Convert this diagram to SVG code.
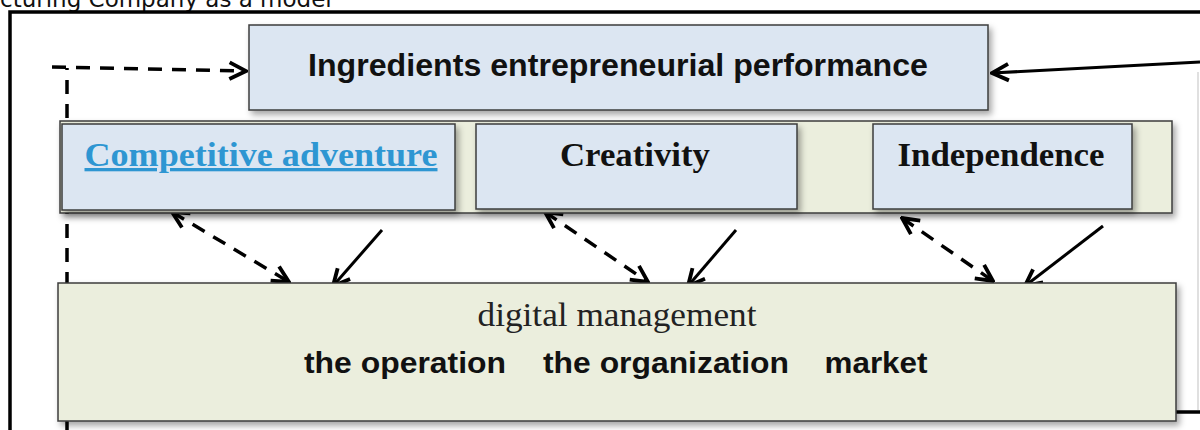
<svg xmlns="http://www.w3.org/2000/svg" width="1200" height="430" viewBox="0 0 1200 430">
  <style>
    .caption { font-family: "DejaVu Sans", "Liberation Sans", sans-serif; font-size: 23px; fill: #111; }
    .box-blue { fill: #dce6f2; stroke: #3c3c3c; stroke-width: 1.5; }
    .box-green { fill: #ebeedd; stroke: #3c3c3c; stroke-width: 1.5; }
    .sans-b { font-family: "Liberation Sans", Arial, sans-serif; font-weight: bold; fill: #111; }
    .serif-b { font-family: "Liberation Serif", "Times New Roman", serif; font-weight: bold; fill: #111; }
    .serif { font-family: "Liberation Serif", "Times New Roman", serif; fill: #222; }
    .solid { fill: none; stroke: #000; stroke-width: 3; }
    .dash { fill: none; stroke: #000; stroke-width: 3.5; stroke-dasharray: 14 10; }
    .frame { fill: none; stroke: #000; stroke-width: 3.5; }
  </style>
  <defs>
    <filter id="shadow" x="-5%" y="-10%" width="112%" height="130%">
      <feDropShadow dx="3" dy="4" stdDeviation="3" flood-color="#000" flood-opacity="0.35"/>
    </filter>
    <marker id="openL" viewBox="0 0 12 12" refX="11" refY="6" markerWidth="22" markerHeight="22" orient="auto-start-reverse" markerUnits="userSpaceOnUse">
      <path d="M2,1.5 L11,6 L2,10.5" fill="none" stroke="#000" stroke-width="2.1"/>
    </marker>
  </defs>

  <rect width="1200" height="430" fill="#fff"/>

  <!-- caption line running off the top edge -->
  <text class="caption" x="0" y="7">cturing Company as a model</text>

  <!-- outer frame -->
  <path class="frame" d="M10,430 L10,12 L1200,12"/>
  <line x1="1198" y1="72" x2="1198" y2="410" stroke="#ccc" stroke-width="1.2"/>
  <line x1="1175" y1="412" x2="1200" y2="412" stroke="#000" stroke-width="3.5"/>

  <!-- connectors -->
  <g id="connectors">
    <path class="dash" d="M67,430 L67,68"/>
    <path class="dash" d="M52,67 L246,71" marker-end="url(#openL)"/>
    <path class="solid" d="M1200,62 L992,73" marker-end="url(#openL)"/>
    <path class="dash" d="M172,212 L289,282" marker-start="url(#openL)" marker-end="url(#openL)"/>
    <path class="dash" d="M545,212 L648,282" marker-start="url(#openL)" marker-end="url(#openL)"/>
    <path class="dash" d="M902,218 L993,281" marker-start="url(#openL)" marker-end="url(#openL)"/>
    <path class="solid" d="M382,230 L333,286" marker-end="url(#openL)"/>
    <path class="solid" d="M736,230 L688,286" marker-end="url(#openL)"/>
    <path class="solid" d="M1103,226 L1025,286" marker-end="url(#openL)"/>
  </g>

  <!-- top node -->
  <g id="performance">
    <rect class="box-blue" x="249" y="25" width="739" height="85" filter="url(#shadow)"/>
    <text class="sans-b" x="618" y="76" font-size="31" text-anchor="middle" textLength="620" lengthAdjust="spacingAndGlyphs">Ingredients entrepreneurial performance</text>
  </g>

  <!-- band holding the three dimensions -->
  <g id="dimensions">
    <rect class="box-green" x="60" y="121" width="1112" height="92" filter="url(#shadow)"/>
  </g>

  <g id="competitive">
    <rect class="box-blue" x="62" y="124" width="393" height="86" filter="url(#shadow)"/>
    <text class="serif-b" x="261" y="166" font-size="33" text-anchor="middle" style="fill:#2e96d2" text-decoration="underline" textLength="353" lengthAdjust="spacingAndGlyphs">Competitive adventure</text>
  </g>

  <g id="creativity">
    <rect class="box-blue" x="476" y="124" width="321" height="85" filter="url(#shadow)"/>
    <text class="serif-b" x="635" y="166" font-size="33" text-anchor="middle" textLength="150" lengthAdjust="spacingAndGlyphs">Creativity</text>
  </g>

  <g id="independence">
    <rect class="box-blue" x="873" y="124" width="259" height="85" filter="url(#shadow)"/>
    <text class="serif-b" x="1001" y="166" font-size="33" text-anchor="middle" textLength="207" lengthAdjust="spacingAndGlyphs">Independence</text>
  </g>

  <!-- bottom node -->
  <g id="digital-management">
    <rect class="box-green" x="58" y="283" width="1118" height="138" filter="url(#shadow)"/>
    <text class="serif" x="617" y="326" font-size="33" text-anchor="middle" textLength="279" lengthAdjust="spacingAndGlyphs">digital management</text>
    <text class="sans-b" x="405" y="373" font-size="30" text-anchor="middle" textLength="202" lengthAdjust="spacingAndGlyphs">the operation</text>
    <text class="sans-b" x="666" y="373" font-size="30" text-anchor="middle" textLength="246" lengthAdjust="spacingAndGlyphs">the organization</text>
    <text class="sans-b" x="876" y="373" font-size="30" text-anchor="middle" textLength="103" lengthAdjust="spacingAndGlyphs">market</text>
  </g>
</svg>
